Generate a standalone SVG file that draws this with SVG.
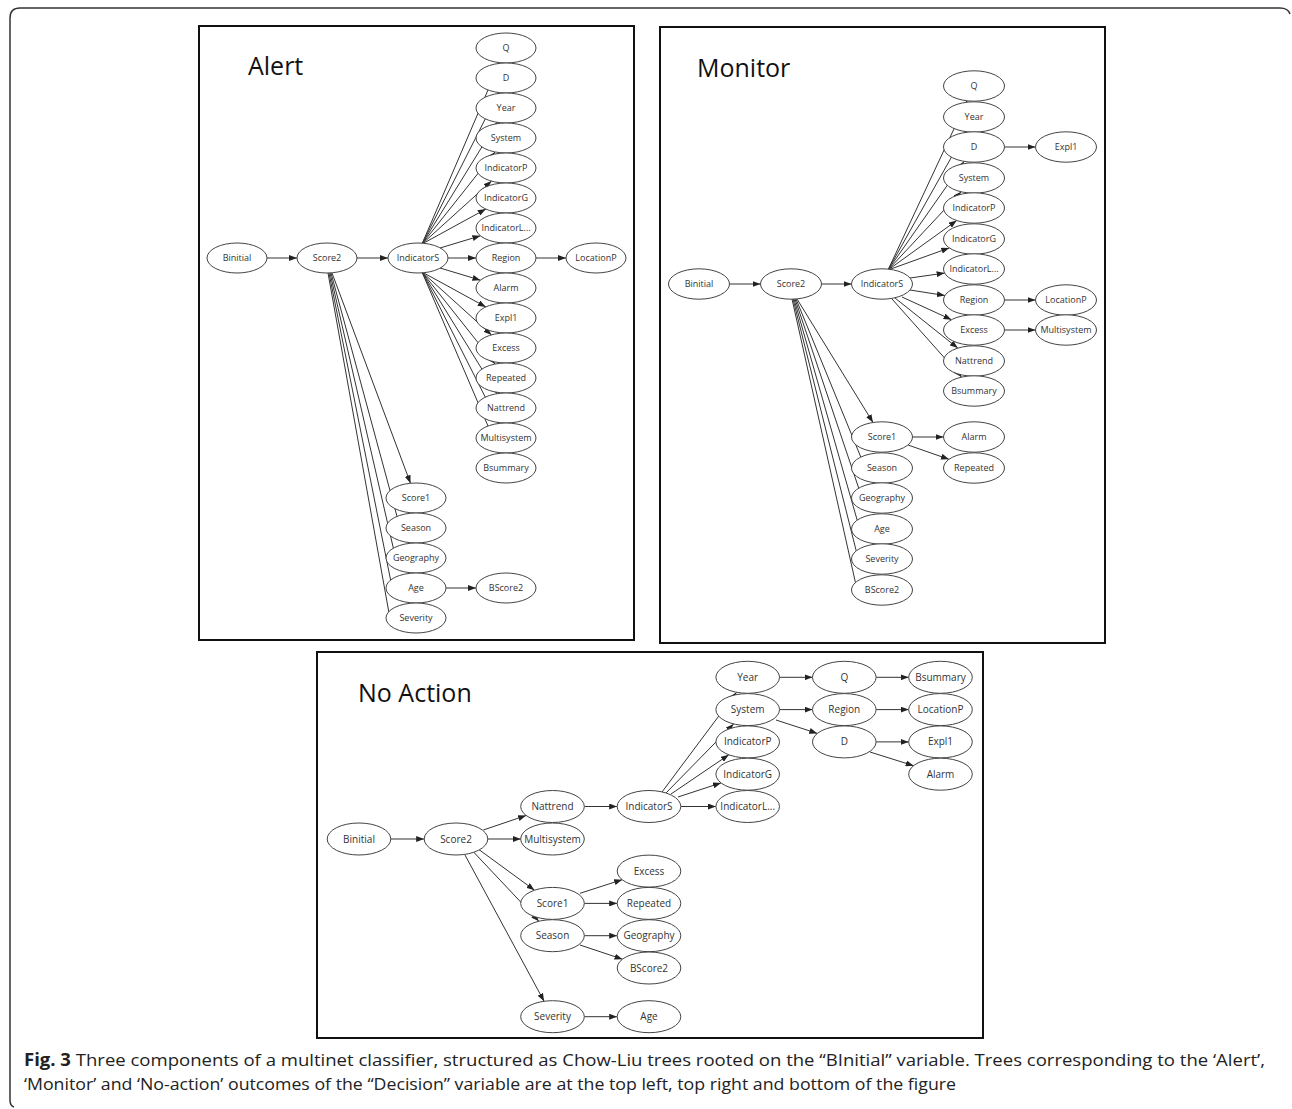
<svg xmlns="http://www.w3.org/2000/svg" width="1292" height="1109" viewBox="0 0 1292 1109">
<style>
.frame{fill:none;stroke:#333;stroke-width:1.5}
.panel{fill:none;stroke:#111;stroke-width:2}
.title{font-family:"Open Sans","Liberation Sans",sans-serif;font-size:25px;fill:#111}
.n ellipse{fill:#fff;stroke:#444;stroke-width:1}
.n text{font-family:"Open Sans","Liberation Sans",sans-serif;font-size:9px;fill:#333;text-anchor:middle}
.big ellipse{stroke-width:1}
.big text{font-size:10px}
.e line{stroke:#333;stroke-width:1;fill:none}
.a{marker-end:url(#arr)}
.cap{font-family:"Open Sans","Liberation Sans",sans-serif;font-size:17px;fill:#222}
</style>
<defs>
<marker id="arr" viewBox="0 0 8 6" refX="8" refY="3" markerWidth="8" markerHeight="6" markerUnits="userSpaceOnUse" orient="auto">
<path d="M0,0 L8,3 L0,6 z" fill="#222"/>
</marker>
</defs>
<rect width="1292" height="1109" fill="#fff"/>
<path class="frame" d="M14,1107 Q10,1106 10,1100 L10,18 Q10,8 20,8 L1280,8 Q1288,8 1290,14"/>
<rect class="panel" x="199" y="26" width="435" height="614"/>
<rect class="panel" x="660" y="27" width="445" height="616"/>
<rect class="panel" x="317" y="652" width="666" height="386"/>
<text class="title" x="248" y="75">Alert</text>
<text class="title" x="697" y="77">Monitor</text>
<text class="title" x="358" y="702">No Action</text>

<g id="connectors" class="e">
<!-- Alert -->
<line class="a" x1="267" y1="258" x2="297" y2="258"/>
<line class="a" x1="357" y1="258" x2="388" y2="258"/>
<line class="a" x1="448" y1="258" x2="476" y2="258"/>
<line class="a" x1="536" y1="258" x2="566" y2="258"/>
<line class="a" x1="446" y1="588" x2="476" y2="588"/>
<line class="a" x1="422" y1="244" x2="499.7" y2="62.7"/>
<line class="a" x1="422" y1="244" x2="498.6" y2="92.5"/>
<line class="a" x1="422" y1="244" x2="497.1" y2="122.3"/>
<line class="a" x1="422" y1="244" x2="495" y2="152"/>
<line class="a" x1="422" y1="244" x2="491.5" y2="181.1"/>
<line class="a" x1="422" y1="244" x2="485.8" y2="209.1"/>
<line class="a" x1="440" y1="248" x2="480.4" y2="235.8"/>
<line class="a" x1="440" y1="268" x2="480.4" y2="280.2"/>
<line class="a" x1="422" y1="272" x2="485.8" y2="306.9"/>
<line class="a" x1="422" y1="272" x2="491.5" y2="334.9"/>
<line class="a" x1="422" y1="272" x2="495" y2="364"/>
<line class="a" x1="422" y1="272" x2="497.1" y2="393.7"/>
<line class="a" x1="422" y1="272" x2="498.6" y2="423.5"/>
<line class="a" x1="422" y1="272" x2="499.7" y2="453.3"/>
<line class="a" x1="332" y1="273" x2="410.5" y2="483.3"/>
<line x1="331" y1="273" x2="398" y2="520"/>
<line x1="330" y1="273" x2="394" y2="551"/>
<line x1="329" y1="273" x2="391" y2="582"/>
<line x1="328" y1="273" x2="389" y2="613"/>
<!-- Monitor -->
<line class="a" x1="729.5" y1="284" x2="760.5" y2="284"/>
<line class="a" x1="821.5" y1="284" x2="851.5" y2="284"/>
<line class="a" x1="888" y1="270" x2="967.1" y2="100.8"/>
<line class="a" x1="888" y1="270" x2="965.8" y2="131.6"/>
<line class="a" x1="888" y1="270" x2="964" y2="161.4"/>
<line class="a" x1="888" y1="270" x2="961.1" y2="191.8"/>
<line class="a" x1="888" y1="270" x2="956.7" y2="220.5"/>
<line class="a" x1="888" y1="270" x2="949.3" y2="247.9"/>
<line class="a" x1="910" y1="278" x2="944.6" y2="273.1"/>
<line class="a" x1="910" y1="290" x2="944.9" y2="295.5"/>
<line class="a" x1="902" y1="297" x2="951.5" y2="319.7"/>
<line class="a" x1="895" y1="298" x2="957.8" y2="348.1"/>
<line class="a" x1="892" y1="299" x2="961.6" y2="377.1"/>
<line class="a" x1="1004.5" y1="147" x2="1035.5" y2="147"/>
<line class="a" x1="1004.5" y1="300" x2="1035.5" y2="300"/>
<line class="a" x1="1004.5" y1="330" x2="1035.5" y2="330"/>
<line class="a" x1="797" y1="299" x2="873" y2="422.5"/>
<line x1="796" y1="299" x2="862" y2="460"/>
<line x1="795" y1="299" x2="860" y2="492"/>
<line x1="794" y1="299" x2="858" y2="523"/>
<line x1="793" y1="299" x2="857" y2="554"/>
<line x1="792" y1="299" x2="856" y2="585"/>
<line class="a" x1="912.5" y1="437" x2="943.5" y2="437"/>
<line class="a" x1="908" y1="445" x2="949" y2="459.3"/>
<!-- No Action -->
<line class="a" x1="390.8" y1="839" x2="424.2" y2="839"/>
<line class="a" x1="487.8" y1="839" x2="520.7" y2="839"/>
<line class="a" x1="483.3" y1="830" x2="526.1" y2="815.5"/>
<line class="a" x1="584.3" y1="806.5" x2="617.2" y2="806.5"/>
<line class="a" x1="475" y1="846.7" x2="534.5" y2="890.2"/>
<line class="a" x1="471.7" y1="850" x2="538.9" y2="921.3"/>
<line class="a" x1="465" y1="855" x2="544.1" y2="1001.3"/>
<line class="a" x1="584.3" y1="1016.7" x2="617.2" y2="1016.7"/>
<line class="a" x1="680.8" y1="806.5" x2="715.9" y2="806.5"/>
<line class="a" x1="678" y1="797" x2="721" y2="782.9"/>
<line class="a" x1="671" y1="794" x2="728.8" y2="754.8"/>
<line class="a" x1="666" y1="793" x2="733.6" y2="724"/>
<line class="a" x1="662" y1="792" x2="736.5" y2="692.3"/>
<line class="a" x1="779.5" y1="677.3" x2="812.5" y2="677.3"/>
<line class="a" x1="876.1" y1="677.3" x2="908.7" y2="677.3"/>
<line class="a" x1="779.5" y1="709.6" x2="812.5" y2="709.6"/>
<line class="a" x1="876.1" y1="709.6" x2="908.7" y2="709.6"/>
<line class="a" x1="776" y1="720" x2="817.3" y2="733.4"/>
<line class="a" x1="876.1" y1="741.9" x2="908.7" y2="741.9"/>
<line class="a" x1="870" y1="752" x2="913.6" y2="765.7"/>
<line class="a" x1="580" y1="893.3" x2="622.2" y2="879.7"/>
<line class="a" x1="584.3" y1="903.4" x2="617.2" y2="903.4"/>
<line class="a" x1="584.3" y1="935.7" x2="617.2" y2="935.7"/>
<line class="a" x1="580" y1="945" x2="622.5" y2="959.2"/>
</g>

<!-- Alert nodes -->
<g id="alert-Binitial" class="n"><ellipse cx="237" cy="258" rx="30" ry="15"/><text x="237" y="261">Binitial</text></g>
<g id="alert-Score2" class="n"><ellipse cx="327" cy="258" rx="30" ry="15"/><text x="327" y="261">Score2</text></g>
<g id="alert-IndicatorS" class="n"><ellipse cx="418" cy="258" rx="30" ry="15"/><text x="418" y="261">IndicatorS</text></g>
<g id="alert-Q" class="n"><ellipse cx="506" cy="48" rx="30" ry="15"/><text x="506" y="51">Q</text></g>
<g id="alert-D" class="n"><ellipse cx="506" cy="78" rx="30" ry="15"/><text x="506" y="81">D</text></g>
<g id="alert-Year" class="n"><ellipse cx="506" cy="108" rx="30" ry="15"/><text x="506" y="111">Year</text></g>
<g id="alert-System" class="n"><ellipse cx="506" cy="138" rx="30" ry="15"/><text x="506" y="141">System</text></g>
<g id="alert-IndicatorP" class="n"><ellipse cx="506" cy="168" rx="30" ry="15"/><text x="506" y="171">IndicatorP</text></g>
<g id="alert-IndicatorG" class="n"><ellipse cx="506" cy="198" rx="30" ry="15"/><text x="506" y="201">IndicatorG</text></g>
<g id="alert-IndicatorL" class="n"><ellipse cx="506" cy="228" rx="30" ry="15"/><text x="506" y="231">IndicatorL...</text></g>
<g id="alert-Region" class="n"><ellipse cx="506" cy="258" rx="30" ry="15"/><text x="506" y="261">Region</text></g>
<g id="alert-Alarm" class="n"><ellipse cx="506" cy="288" rx="30" ry="15"/><text x="506" y="291">Alarm</text></g>
<g id="alert-Expl1" class="n"><ellipse cx="506" cy="318" rx="30" ry="15"/><text x="506" y="321">Expl1</text></g>
<g id="alert-Excess" class="n"><ellipse cx="506" cy="348" rx="30" ry="15"/><text x="506" y="351">Excess</text></g>
<g id="alert-Repeated" class="n"><ellipse cx="506" cy="378" rx="30" ry="15"/><text x="506" y="381">Repeated</text></g>
<g id="alert-Nattrend" class="n"><ellipse cx="506" cy="408" rx="30" ry="15"/><text x="506" y="411">Nattrend</text></g>
<g id="alert-Multisystem" class="n"><ellipse cx="506" cy="438" rx="30" ry="15"/><text x="506" y="441">Multisystem</text></g>
<g id="alert-Bsummary" class="n"><ellipse cx="506" cy="468" rx="30" ry="15"/><text x="506" y="471">Bsummary</text></g>
<g id="alert-LocationP" class="n"><ellipse cx="596" cy="258" rx="30" ry="15"/><text x="596" y="261">LocationP</text></g>
<g id="alert-Score1" class="n"><ellipse cx="416" cy="498" rx="30" ry="15"/><text x="416" y="501">Score1</text></g>
<g id="alert-Season" class="n"><ellipse cx="416" cy="528" rx="30" ry="15"/><text x="416" y="531">Season</text></g>
<g id="alert-Geography" class="n"><ellipse cx="416" cy="558" rx="30" ry="15"/><text x="416" y="561">Geography</text></g>
<g id="alert-Age" class="n"><ellipse cx="416" cy="588" rx="30" ry="15"/><text x="416" y="591">Age</text></g>
<g id="alert-Severity" class="n"><ellipse cx="416" cy="618" rx="30" ry="15"/><text x="416" y="621">Severity</text></g>
<g id="alert-BScore2" class="n"><ellipse cx="506" cy="588" rx="30" ry="15"/><text x="506" y="591">BScore2</text></g>

<!-- Monitor nodes -->
<g id="monitor-Binitial" class="n"><ellipse cx="699" cy="284" rx="30.5" ry="15.2"/><text x="699" y="287">Binitial</text></g>
<g id="monitor-Score2" class="n"><ellipse cx="791" cy="284" rx="30.5" ry="15.2"/><text x="791" y="287">Score2</text></g>
<g id="monitor-IndicatorS" class="n"><ellipse cx="882" cy="284" rx="30.5" ry="15.2"/><text x="882" y="287">IndicatorS</text></g>
<g id="monitor-Q" class="n"><ellipse cx="974" cy="86" rx="30.5" ry="15.2"/><text x="974" y="89">Q</text></g>
<g id="monitor-Year" class="n"><ellipse cx="974" cy="117" rx="30.5" ry="15.2"/><text x="974" y="120">Year</text></g>
<g id="monitor-D" class="n"><ellipse cx="974" cy="147" rx="30.5" ry="15.2"/><text x="974" y="150">D</text></g>
<g id="monitor-System" class="n"><ellipse cx="974" cy="178" rx="30.5" ry="15.2"/><text x="974" y="181">System</text></g>
<g id="monitor-IndicatorP" class="n"><ellipse cx="974" cy="208" rx="30.5" ry="15.2"/><text x="974" y="211">IndicatorP</text></g>
<g id="monitor-IndicatorG" class="n"><ellipse cx="974" cy="239" rx="30.5" ry="15.2"/><text x="974" y="242">IndicatorG</text></g>
<g id="monitor-IndicatorL" class="n"><ellipse cx="974" cy="269" rx="30.5" ry="15.2"/><text x="974" y="272">IndicatorL...</text></g>
<g id="monitor-Region" class="n"><ellipse cx="974" cy="300" rx="30.5" ry="15.2"/><text x="974" y="303">Region</text></g>
<g id="monitor-Excess" class="n"><ellipse cx="974" cy="330" rx="30.5" ry="15.2"/><text x="974" y="333">Excess</text></g>
<g id="monitor-Nattrend" class="n"><ellipse cx="974" cy="361" rx="30.5" ry="15.2"/><text x="974" y="364">Nattrend</text></g>
<g id="monitor-Bsummary" class="n"><ellipse cx="974" cy="391" rx="30.5" ry="15.2"/><text x="974" y="394">Bsummary</text></g>
<g id="monitor-Expl1" class="n"><ellipse cx="1066" cy="147" rx="30.5" ry="15.2"/><text x="1066" y="150">Expl1</text></g>
<g id="monitor-LocationP" class="n"><ellipse cx="1066" cy="300" rx="30.5" ry="15.2"/><text x="1066" y="303">LocationP</text></g>
<g id="monitor-Multisystem" class="n"><ellipse cx="1066" cy="330" rx="30.5" ry="15.2"/><text x="1066" y="333">Multisystem</text></g>
<g id="monitor-Score1" class="n"><ellipse cx="882" cy="437" rx="30.5" ry="15.2"/><text x="882" y="440">Score1</text></g>
<g id="monitor-Season" class="n"><ellipse cx="882" cy="468" rx="30.5" ry="15.2"/><text x="882" y="471">Season</text></g>
<g id="monitor-Geography" class="n"><ellipse cx="882" cy="498" rx="30.5" ry="15.2"/><text x="882" y="501">Geography</text></g>
<g id="monitor-Age" class="n"><ellipse cx="882" cy="529" rx="30.5" ry="15.2"/><text x="882" y="532">Age</text></g>
<g id="monitor-Severity" class="n"><ellipse cx="882" cy="559" rx="30.5" ry="15.2"/><text x="882" y="562">Severity</text></g>
<g id="monitor-BScore2" class="n"><ellipse cx="882" cy="590" rx="30.5" ry="15.2"/><text x="882" y="593">BScore2</text></g>
<g id="monitor-Alarm" class="n"><ellipse cx="974" cy="437" rx="30.5" ry="15.2"/><text x="974" y="440">Alarm</text></g>
<g id="monitor-Repeated" class="n"><ellipse cx="974" cy="468" rx="30.5" ry="15.2"/><text x="974" y="471">Repeated</text></g>

<!-- No Action nodes -->
<g id="noaction-Binitial" class="n big"><ellipse cx="359" cy="839" rx="31.8" ry="16"/><text x="359" y="842.5">Binitial</text></g>
<g id="noaction-Score2" class="n big"><ellipse cx="456" cy="839" rx="31.8" ry="16"/><text x="456" y="842.5">Score2</text></g>
<g id="noaction-Nattrend" class="n big"><ellipse cx="552.5" cy="806.5" rx="31.8" ry="16"/><text x="552.5" y="810">Nattrend</text></g>
<g id="noaction-Multisystem" class="n big"><ellipse cx="552.5" cy="839" rx="31.8" ry="16"/><text x="552.5" y="842.5">Multisystem</text></g>
<g id="noaction-IndicatorS" class="n big"><ellipse cx="649" cy="806.5" rx="31.8" ry="16"/><text x="649" y="810">IndicatorS</text></g>
<g id="noaction-Excess" class="n big"><ellipse cx="649" cy="871.1" rx="31.8" ry="16"/><text x="649" y="874.6">Excess</text></g>
<g id="noaction-Score1" class="n big"><ellipse cx="552.5" cy="903.4" rx="31.8" ry="16"/><text x="552.5" y="906.9">Score1</text></g>
<g id="noaction-Repeated" class="n big"><ellipse cx="649" cy="903.4" rx="31.8" ry="16"/><text x="649" y="906.9">Repeated</text></g>
<g id="noaction-Season" class="n big"><ellipse cx="552.5" cy="935.7" rx="31.8" ry="16"/><text x="552.5" y="939.2">Season</text></g>
<g id="noaction-Geography" class="n big"><ellipse cx="649" cy="935.7" rx="31.8" ry="16"/><text x="649" y="939.2">Geography</text></g>
<g id="noaction-BScore2" class="n big"><ellipse cx="649" cy="968" rx="31.8" ry="16"/><text x="649" y="971.5">BScore2</text></g>
<g id="noaction-Severity" class="n big"><ellipse cx="552.5" cy="1016.7" rx="31.8" ry="16"/><text x="552.5" y="1020.2">Severity</text></g>
<g id="noaction-Age" class="n big"><ellipse cx="649" cy="1016.7" rx="31.8" ry="16"/><text x="649" y="1020.2">Age</text></g>
<g id="noaction-Year" class="n big"><ellipse cx="747.7" cy="677.3" rx="31.8" ry="16"/><text x="747.7" y="680.8">Year</text></g>
<g id="noaction-System" class="n big"><ellipse cx="747.7" cy="709.6" rx="31.8" ry="16"/><text x="747.7" y="713.1">System</text></g>
<g id="noaction-IndicatorP" class="n big"><ellipse cx="747.7" cy="741.9" rx="31.8" ry="16"/><text x="747.7" y="745.4">IndicatorP</text></g>
<g id="noaction-IndicatorG" class="n big"><ellipse cx="747.7" cy="774.2" rx="31.8" ry="16"/><text x="747.7" y="777.7">IndicatorG</text></g>
<g id="noaction-IndicatorL" class="n big"><ellipse cx="747.7" cy="806.5" rx="31.8" ry="16"/><text x="747.7" y="810">IndicatorL...</text></g>
<g id="noaction-Q" class="n big"><ellipse cx="844.3" cy="677.3" rx="31.8" ry="16"/><text x="844.3" y="680.8">Q</text></g>
<g id="noaction-Region" class="n big"><ellipse cx="844.3" cy="709.6" rx="31.8" ry="16"/><text x="844.3" y="713.1">Region</text></g>
<g id="noaction-D" class="n big"><ellipse cx="844.3" cy="741.9" rx="31.8" ry="16"/><text x="844.3" y="745.4">D</text></g>
<g id="noaction-Bsummary" class="n big"><ellipse cx="940.5" cy="677.3" rx="31.8" ry="16"/><text x="940.5" y="680.8">Bsummary</text></g>
<g id="noaction-LocationP" class="n big"><ellipse cx="940.5" cy="709.6" rx="31.8" ry="16"/><text x="940.5" y="713.1">LocationP</text></g>
<g id="noaction-Expl1" class="n big"><ellipse cx="940.5" cy="741.9" rx="31.8" ry="16"/><text x="940.5" y="745.4">Expl1</text></g>
<g id="noaction-Alarm" class="n big"><ellipse cx="940.5" cy="774.2" rx="31.8" ry="16"/><text x="940.5" y="777.7">Alarm</text></g>

<g id="caption">
<text class="cap" x="24" y="1066" textLength="1241" lengthAdjust="spacingAndGlyphs"><tspan font-weight="bold">Fig. 3</tspan> Three components of a multinet classifier, structured as Chow-Liu trees rooted on the “BInitial” variable. Trees corresponding to the ‘Alert’,</text>
<text class="cap" x="24" y="1090" textLength="932" lengthAdjust="spacingAndGlyphs">‘Monitor’ and ‘No-action’ outcomes of the “Decision” variable are at the top left, top right and bottom of the figure</text>
</g>
</svg>
